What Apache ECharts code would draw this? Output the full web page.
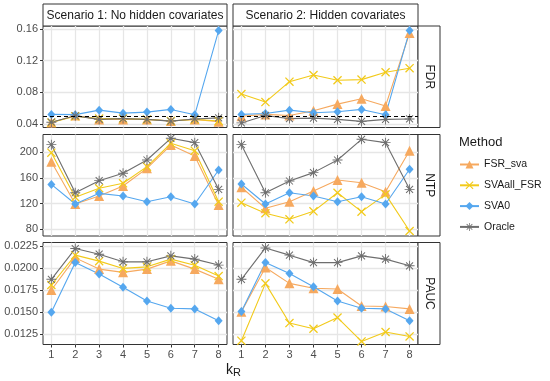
<!DOCTYPE html>
<html><head><meta charset="utf-8">
<script src="https://cdn.jsdelivr.net/npm/echarts@6/dist/echarts.min.js"></script>
<style>html,body{margin:0;padding:0;background:#fff}#c{width:550px;height:381px}</style>
</head><body><div id="c"></div>
<script>
// ---------- data ----------
const kR = [1, 2, 3, 4, 5, 6, 7, 8];
const methods = ['FSR_sva', 'SVAall_FSR', 'SVA0', 'Oracle'];
const scenarios = ['Scenario 1: No hidden covariates', 'Scenario 2: Hidden covariates'];
const metricNames = ['FDR', 'NTP', 'PAUC'];

// FDR
const fdr_s1_FSR_sva    = [0.042, 0.051, 0.046, 0.046, 0.046, 0.044, 0.046, 0.043];
const fdr_s1_SVAall_FSR = [0.042, 0.050, 0.047, 0.047, 0.046, 0.044, 0.046, 0.044];
const fdr_s1_SVA0       = [0.0523, 0.052, 0.0577, 0.0539, 0.0552, 0.0586, 0.0518, 0.158];
const fdr_s1_Oracle     = [0.0425, 0.0505, 0.046, 0.047, 0.046, 0.0438, 0.0466, 0.048];
const fdr_s2_FSR_sva    = [0.050, 0.0523, 0.051, 0.057, 0.0653, 0.072, 0.063, 0.155];
const fdr_s2_SVAall_FSR = [0.078, 0.0679, 0.0936, 0.102, 0.0954, 0.0962, 0.1055, 0.1106];
const fdr_s2_SVA0       = [0.0523, 0.0535, 0.0577, 0.0544, 0.0556, 0.0586, 0.0518, 0.158];
const fdr_s2_Oracle     = [0.0416, 0.051, 0.047, 0.0476, 0.046, 0.0435, 0.046, 0.0466];
// NTP
const ntp_s1_FSR_sva    = [185.4, 119.4, 132, 147.5, 175, 211.3, 194.2, 118];
const ntp_s1_SVAall_FSR = [199.4, 130, 144, 151.7, 177.6, 214, 202.5, 123];
const ntp_s1_SVA0       = [150, 119.4, 136, 132, 123, 130.8, 119.4, 172.4];
const ntp_s1_Oracle     = [211.9, 137, 155.8, 167.3, 188, 221.8, 215, 142.3];
const ntp_s2_FSR_sva    = [145.5, 112.7, 123, 139.7, 156.8, 152.6, 138.6, 202.5];
const ntp_s2_SVAall_FSR = [121.5, 105, 95.6, 108, 137, 107.5, 134.5, 77.4];
const ntp_s2_SVA0       = [150.6, 119.4, 137, 132, 123, 130.8, 119.4, 173.5];
const ntp_s2_Oracle     = [211.9, 137, 155.3, 168.3, 188, 220.2, 215, 142.3];
// PAUC
const pauc_s1_FSR_sva    = [0.01748, 0.02114, 0.01986, 0.01949, 0.01986, 0.0208, 0.01986, 0.0187];
const pauc_s1_SVAall_FSR = [0.01805, 0.02145, 0.02077, 0.01994, 0.02012, 0.021, 0.0203, 0.01907];
const pauc_s1_SVA0       = [0.01496, 0.02062, 0.0193, 0.01779, 0.01624, 0.01541, 0.01533, 0.01398];
const pauc_s1_Oracle     = [0.0187, 0.0222, 0.02156, 0.02069, 0.02069, 0.02137, 0.021, 0.02032];
const pauc_s2_FSR_sva    = [0.0150, 0.02005, 0.01824, 0.01768, 0.0176, 0.01567, 0.0156, 0.01533];
const pauc_s2_SVAall_FSR = [0.01171, 0.01824, 0.01372, 0.01307, 0.01435, 0.01163, 0.0127, 0.0122];
const pauc_s2_SVA0       = [0.01503, 0.02062, 0.01937, 0.01786, 0.01624, 0.01541, 0.01533, 0.01398];
const pauc_s2_Oracle     = [0.0187, 0.02227, 0.02145, 0.0206, 0.0206, 0.02137, 0.021, 0.02024];

// tick labels
const xTicks = [1, 2, 3, 4, 5, 6, 7, 8];
const xLabels = ['1', '2', '3', '4', '5', '6', '7', '8'];
const fdrTicks = [0.04, 0.08, 0.12, 0.16];
const fdrLabels = ['0.04', '0.08', '0.12', '0.16'];
const ntpTicks = [80, 120, 160, 200];
const ntpLabels = ['80', '120', '160', '200'];
const paucTicks = [0.0125, 0.015, 0.0175, 0.02, 0.0225];
const paucLabels = ['0.0125', '0.0150', '0.0175', '0.0200', '0.0225'];
const fdrTarget = 0.05;

// ---------- assembly ----------
const panelData = [
  [[fdr_s1_FSR_sva, fdr_s1_SVAall_FSR, fdr_s1_SVA0, fdr_s1_Oracle],
   [fdr_s2_FSR_sva, fdr_s2_SVAall_FSR, fdr_s2_SVA0, fdr_s2_Oracle]],
  [[ntp_s1_FSR_sva, ntp_s1_SVAall_FSR, ntp_s1_SVA0, ntp_s1_Oracle],
   [ntp_s2_FSR_sva, ntp_s2_SVAall_FSR, ntp_s2_SVA0, ntp_s2_Oracle]],
  [[pauc_s1_FSR_sva, pauc_s1_SVAall_FSR, pauc_s1_SVA0, pauc_s1_Oracle],
   [pauc_s2_FSR_sva, pauc_s2_SVAall_FSR, pauc_s2_SVA0, pauc_s2_Oracle]]
];
const yTicks = [fdrTicks, ntpTicks, paucTicks];
const yLabels = [fdrLabels, ntpLabels, paucLabels];
const yRange = [[0.0358, 0.1638], [69.6, 227.7], [0.01128, 0.02289]];

const colLeft = [43, 233], colWidth = [184, 185];
const rowTop = [26, 134.5, 242.5], rowHeight = [101.5, 101.5, 102];

const colors = ['#F6A95F', '#F2CA1A', '#55A7EF', '#6E6E6E'];
const XPATH = 'path://M0,1L1,0L10,9L9,10ZM9,0L10,1L1,10L0,9Z';
const STAR = 'path://M1.15,1.85L1.85,1.15L8.85,8.15L8.15,8.85ZM8.15,1.15L8.85,1.85L1.85,8.85L1.15,8.15ZM4.55,0L5.45,0L5.45,10L4.55,10ZM0,5.45L0,4.55L10,4.55L10,5.45Z';
const symbols = ['triangle', XPATH, 'diamond', STAR];
const symSizes = [10, 9, [8, 9], 10];

const FONT = 'Liberation Sans, Arial, Helvetica, sans-serif';
function labelFor(ticks, labels) {
  return function (v) {
    let best = 0, bd = Infinity;
    ticks.forEach((t, i) => { const d = Math.abs(t - v); if (d < bd) { bd = d; best = i; } });
    return labels[best];
  };
}

const grid = [], xAxis = [], yAxis = [], series = [];
for (let r = 0; r < 3; r++) {
  for (let c = 0; c < 2; c++) {
    const gi = r * 2 + c;
    grid.push({ left: colLeft[c], top: rowTop[r], width: colWidth[c], height: rowHeight[r],
      show: true, borderColor: '#333', borderWidth: 1, backgroundColor: '#fff',
      containLabel: false, outerBoundsMode: 'none' });
    const bottom = r === 2, left = c === 0;
    xAxis.push({ type: 'value', gridIndex: gi, min: 0.65, max: 8.35,
      axisLine: { show: false, onZero: false },
      axisTick: { show: bottom, length: 3, lineStyle: { color: '#333', width: 1 }, customValues: xTicks },
      axisLabel: { show: bottom, customValues: xTicks, formatter: labelFor(xTicks, xLabels), margin: 5,
        fontSize: 11, color: '#4D4D4D', fontFamily: FONT },
      splitLine: { show: true, lineStyle: { color: '#E6E6E6', width: 1.3 } } });
    yAxis.push({ type: 'value', gridIndex: gi, min: yRange[r][0], max: yRange[r][1],
      axisLine: { show: false, onZero: false },
      axisTick: { show: left, length: 3, lineStyle: { color: '#333', width: 1 }, customValues: yTicks[r] },
      axisLabel: { show: left, customValues: yTicks[r], formatter: labelFor(yTicks[r], yLabels[r]), margin: 5,
        fontSize: 11, color: '#4D4D4D', fontFamily: FONT },
      splitLine: { show: true, lineStyle: { color: '#E6E6E6', width: 1.3 } } });
    for (let m = 0; m < 4; m++) {
      const vals = panelData[r][c][m];
      const s = { type: 'line', name: methods[m], xAxisIndex: gi, yAxisIndex: gi,
        data: kR.map((k, i) => [k, vals[i]]),
        symbol: symbols[m], symbolSize: symSizes[m], showSymbol: true,
        lineStyle: { color: colors[m], width: 1.1 },
        itemStyle: { color: colors[m], borderWidth: 0 },
        emphasis: { disabled: true }, silent: true, animation: false };
      if (r === 0 && m === 3) {
        s.markLine = { silent: true, symbol: 'none', label: { show: false }, animation: false,
          lineStyle: { color: '#000', type: [4, 3], width: 1.2 },
          emphasis: { disabled: true },
          data: [{ yAxis: fdrTarget }] };
      }
      series.push(s);
    }
  }
}

const graphic = [];
for (let c = 0; c < 2; c++) {
  graphic.push({ type: 'rect', shape: { x: colLeft[c], y: 4, width: colWidth[c], height: 22 },
    style: { fill: '#fff', stroke: '#333', lineWidth: 1 } });
  graphic.push({ type: 'text', x: colLeft[c] + colWidth[c] / 2, y: 15.5,
    style: { text: scenarios[c], fontSize: 12, fontFamily: FONT, fill: '#1A1A1A', align: 'center', verticalAlign: 'middle' } });
}
for (let r = 0; r < 3; r++) {
  graphic.push({ type: 'rect', shape: { x: 418, y: rowTop[r], width: 22, height: rowHeight[r] },
    style: { fill: '#fff', stroke: '#333', lineWidth: 1 } });
  graphic.push({ type: 'text', x: 429.5, y: rowTop[r] + rowHeight[r] / 2, rotation: -Math.PI / 2,
    style: { text: metricNames[r], fontSize: 12, fontFamily: FONT, fill: '#1A1A1A', align: 'center', verticalAlign: 'middle' } });
}
graphic.push({ type: 'text', x: 459, y: 142,
  style: { text: 'Method', fontSize: 13, fontFamily: FONT, fill: '#1A1A1A', align: 'left', verticalAlign: 'middle' } });
graphic.push({ type: 'text', x: 226, y: 363,
  style: { text: '{k|k}{r|R}', fontFamily: FONT, fill: '#1A1A1A', align: 'left', verticalAlign: 'top',
    rich: { k: { fontSize: 14, fontFamily: FONT, fill: '#1A1A1A', verticalAlign: 'top' },
            r: { fontSize: 11, fontFamily: FONT, fill: '#1A1A1A', verticalAlign: 'top', padding: [4, 0, 0, 0] } } } });

const chart = echarts.init(document.getElementById('c'), null, { renderer: 'canvas' });
chart.setOption({
  animation: false,
  backgroundColor: '#fff',
  textStyle: { fontFamily: FONT },
  grid, xAxis, yAxis, series, graphic,
  legend: { orient: 'vertical', left: 459, top: 159, itemWidth: 19, itemHeight: 10, itemGap: 9.8,
    padding: 0, data: methods, selectedMode: false,
    textStyle: { fontSize: 10.5, color: '#1A1A1A', fontFamily: FONT } }
});
</script></body></html>
